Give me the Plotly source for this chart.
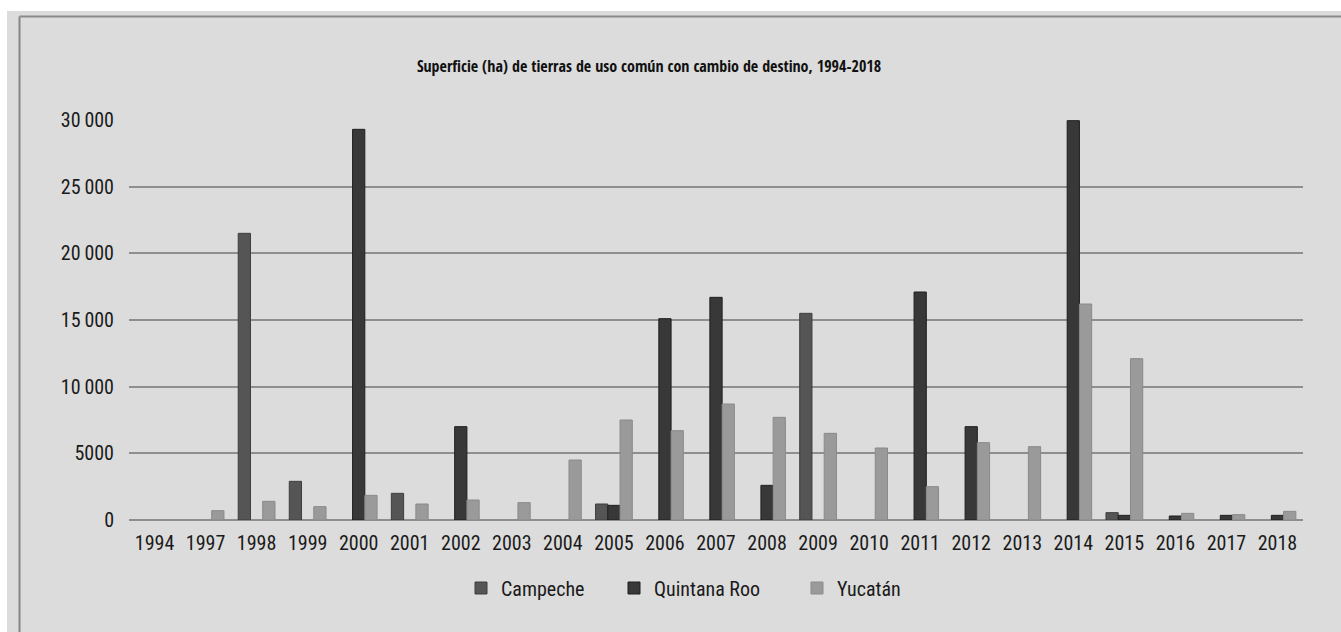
import plotly.graph_objects as go

years = ["1994", "1997", "1998", "1999", "2000", "2001", "2002", "2003", "2004", "2005",
         "2006", "2007", "2008", "2009", "2010", "2011", "2012", "2013", "2014", "2015",
         "2016", "2017", "2018"]

campeche = [None, None, 21500, 2900, None, 2000, None, None, None, 1200,
            None, None, None, 15500, None, None, None, None, None, 550,
            None, None, None]
quintana_roo = [None, None, None, None, 29300, None, 7000, None, None, 1100,
                15100, 16700, 2600, None, None, 17100, 7000, None, 29950, 350,
                300, 350, 350]
yucatan = [None, 700, 1400, 1000, 1850, 1200, 1500, 1300, 4500, 7500,
           6700, 8700, 7700, 6500, 5400, 2500, 5800, 5500, 16200, 12100,
           500, 400, 650]

series_names = ["Campeche", "Quintana Roo", "Yucatán"]
y_tickvals = [0, 5000, 10000, 15000, 20000, 25000, 30000]
y_ticktext = ["0", "5000", "10\u2009000", "15\u2009000", "20\u2009000", "25\u2009000", "30\u2009000"]

FONT = "Roboto Condensed, DejaVu Sans Condensed, sans-serif"
TFONT = "Open Sans Condensed, Roboto Condensed, sans-serif"
BG = "#dcdcdc"
GRID = "#8e8e8e"
TXT = "#1a1a1a"

W, H = 1341, 632
L, R, T, B = 129, 38, 120, 112
pw, ph = W - L - R, H - T - B


def px_x(p):
    return (p - L) / pw


def px_y(p):
    return (H - B - p) / ph


fig = go.Figure()
fills = ["#555555", "#383838", "#9a9a9a"]
lines = ["#3e3e3e", "#1f1f1f", "#8a8a8a"]
legend_ids = ["legend", "legend2", "legend3"]
for name, vals, fc, lc, lid in zip(series_names, [campeche, quintana_roo, yucatan], fills, lines, legend_ids):
    fig.add_trace(go.Bar(x=years, y=vals, name=name, legend=lid,
                         marker=dict(color=fc, line=dict(color=lc, width=1))))

shapes = [
    dict(type="rect", xref="paper", yref="paper", x0=px_x(-10), x1=px_x(W + 10),
         y0=px_y(11), y1=px_y(-10), fillcolor="white", line=dict(width=0), layer="above"),
    dict(type="rect", xref="paper", yref="paper", x0=px_x(-10), x1=px_x(7),
         y0=px_y(H + 10), y1=px_y(-10), fillcolor="white", line=dict(width=0), layer="above"),
    dict(type="line", xref="paper", yref="paper", x0=px_x(19.5), x1=px_x(19.5),
         y0=px_y(16.5), y1=px_y(H + 10), line=dict(color="#858585", width=2), layer="above"),
    dict(type="line", xref="paper", yref="paper", x0=px_x(19.5), x1=px_x(W + 10),
         y0=px_y(16.5), y1=px_y(16.5), line=dict(color="#8a8a8a", width=2), layer="above"),
]


def leg(left_px):
    return dict(orientation="h", x=px_x(left_px), xanchor="left", y=px_y(588), yanchor="middle",
                bgcolor="rgba(0,0,0,0)", font=dict(family=FONT, size=20, color=TXT),
                itemclick=False, borderwidth=0)


fig.update_layout(
    width=W, height=H,
    margin=dict(l=L, r=R, t=T, b=B, pad=0),
    paper_bgcolor=BG, plot_bgcolor=BG,
    barmode="group", bargap=0.28, bargroupgap=0,
    font=dict(family=FONT, size=20, color=TXT),
    title=dict(text="<b>Superficie (ha) de tierras de uso común con cambio de destino, 1994-2018</b>",
               x=649 / W, xanchor="center", y=1 - 66 / H, yanchor="middle",
               font=dict(family=TFONT, size=16, color="#111111")),
    xaxis=dict(type="category", tickmode="array", tickvals=years, ticktext=years,
               showgrid=False, showline=False, zeroline=False,
               ticks="outside", ticklen=5, tickcolor="rgba(0,0,0,0)",
               tickfont=dict(family=FONT, size=20, color=TXT)),
    yaxis=dict(range=[0, 30000], tickmode="array", tickvals=y_tickvals, ticktext=y_ticktext,
               showgrid=True, gridcolor=GRID, gridwidth=1.5,
               zeroline=True, zerolinecolor=GRID, zerolinewidth=1.5,
               showline=False, ticks="outside", ticklen=10, tickcolor="rgba(0,0,0,0)",
               tickfont=dict(family=FONT, size=20, color=TXT)),
    legend=leg(461),
    legend2=leg(614),
    legend3=leg(797),
    shapes=shapes,
    showlegend=True,
)

fig.write_html("out.html")
